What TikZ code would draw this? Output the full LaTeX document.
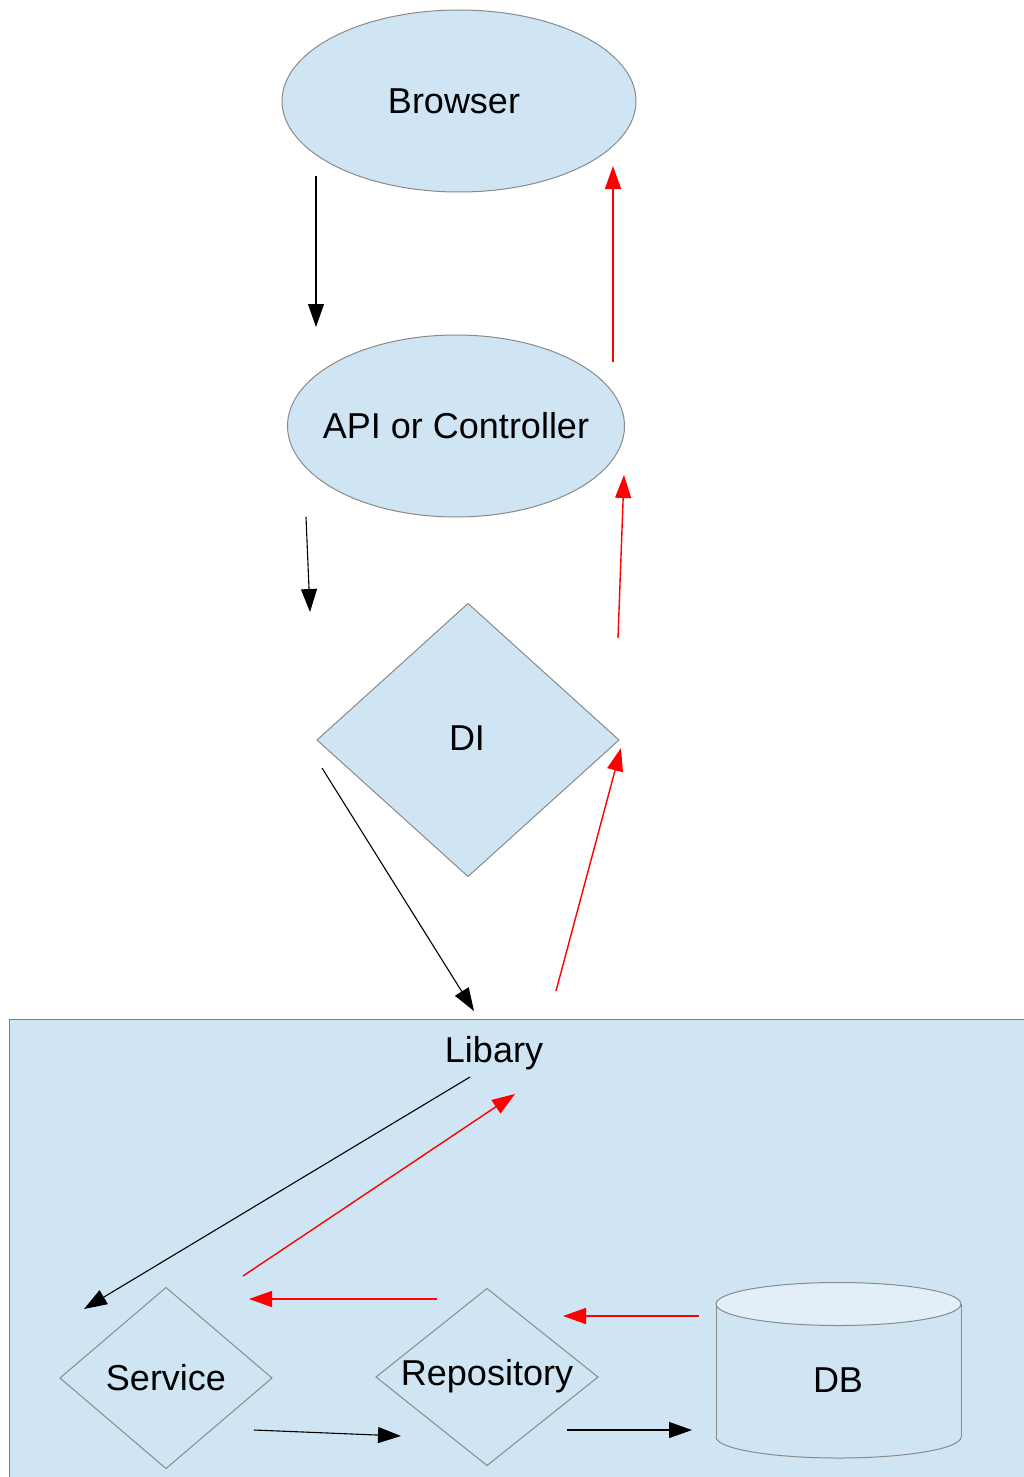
\documentclass[tikz,border=0pt]{standalone}
\usepackage{fontspec}
\setmainfont{Liberation Sans}
\usetikzlibrary{shapes.geometric,arrows.meta}
\definecolor{boxfill}{HTML}{CFE5F3}
\definecolor{topfill}{HTML}{E2EFF8}
\definecolor{edge}{HTML}{8A8A8A}
\tikzset{
  shapebox/.style={draw=edge, fill=boxfill, line width=1pt, inner sep=0pt, outer sep=0pt},
  lbl/.style={font=\fontsize{36}{43}\selectfont, inner sep=0pt},
  blk/.style={draw=black, line width=1.1pt, -{Triangle[length=23pt,width=16pt]}},
  redarr/.style={draw=red, line width=1.4pt, -{Triangle[length=23pt,width=16pt]}},
}
\begin{document}
\begin{tikzpicture}[x=1pt,y=-1pt]
\useasboundingbox (0,0) rectangle (1024,1477);
\fill[white] (0,0) rectangle (1024,1477);
% library container
\node[shapebox, draw=edge!90!black, minimum width=1040pt, minimum height=480pt, anchor=north west] (lib) at (9,1019) {};
\node[lbl] (libtxt) at (494,1053) {Libary};
% top shapes
\node[shapebox, ellipse, minimum width=354pt, minimum height=182pt] (browser) at (459,101) {};
\node[lbl] at (454,101) {Browser};
\node[shapebox, ellipse, minimum width=337pt, minimum height=182pt] (api) at (456,426) {};
\node[lbl] at (456,426) {API or Controller};
\node[shapebox, diamond, minimum width=302pt, minimum height=273pt] (di) at (468,740) {};
\node[lbl] at (467,738) {DI};
% bottom shapes
\node[shapebox, diamond, minimum width=212pt, minimum height=181pt] (service) at (166,1378) {};
\node[lbl] at (166,1378) {Service};
\node[shapebox, diamond, minimum width=222pt, minimum height=177pt] (repo) at (487,1377) {};
\node[lbl] at (487,1376) {Repository};
% DB cylinder
\draw[edge, line width=1pt, fill=boxfill] (716,1437) arc[start angle=180, end angle=360, x radius=122.5pt, y radius=21pt];
\fill[boxfill] (716,1304) rectangle (961,1437);
\draw[edge, line width=1pt] (716,1304) -- (716,1437) (961,1304) -- (961,1437);
\node[shapebox, ellipse, fill=topfill, minimum width=245pt, minimum height=43pt] (dbtop) at (838.5,1304) {};
\coordinate (db) at (838,1380);
\node[lbl] at (db) {DB};
% arrow coordinates
\coordinate (a1s) at (316,176); \coordinate (a1e) at (316,327);
\coordinate (r1s) at (613,362); \coordinate (r1e) at (613,166);
\coordinate (a2s) at (306,517); \coordinate (a2e) at (310,612);
\coordinate (r2s) at (618,638); \coordinate (r2e) at (624,475);
\coordinate (a3s) at (322,768); \coordinate (a3e) at (474,1011);
\coordinate (r3s) at (556,991); \coordinate (r3e) at (621,748);
\coordinate (a4s) at (470,1077); \coordinate (a4e) at (84,1309);
\coordinate (r4s) at (243,1276); \coordinate (r4e) at (515,1094);
\coordinate (r5s) at (437,1299); \coordinate (r5e) at (249,1299);
\coordinate (r6s) at (699,1316); \coordinate (r6e) at (563,1316);
\coordinate (a5s) at (254,1430); \coordinate (a5e) at (401,1436);
\coordinate (a6s) at (567,1430); \coordinate (a6e) at (692,1430);
% arrows
\draw[blk] (a1s) -- (a1e);
\draw[redarr] (r1s) -- (r1e);
\draw[blk] (a2s) -- (a2e);
\draw[redarr] (r2s) -- (r2e);
\draw[blk] (a3s) -- (a3e);
\draw[redarr] (r3s) -- (r3e);
\draw[blk] (a4s) -- (a4e);
\draw[redarr] (r4s) -- (r4e);
\draw[redarr] (r5s) -- (r5e);
\draw[redarr] (r6s) -- (r6e);
\draw[blk] (a5s) -- (a5e);
\draw[blk] (a6s) -- (a6e);
\end{tikzpicture}
\end{document}
